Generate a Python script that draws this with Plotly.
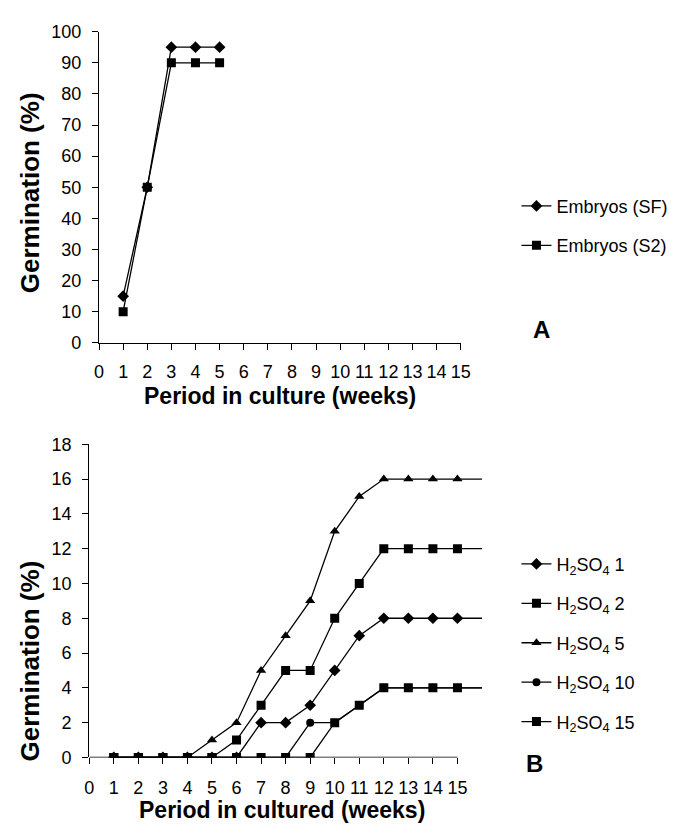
import plotly.graph_objects as go

# ---------------- data ----------------
weeks_a = [1, 2, 3, 4, 5]
embryos_sf = [15, 50, 95, 95, 95]
embryos_s2 = [10, 50, 90, 90, 90]

weeks_b = list(range(1, 16))
h2so4_1 = [0, 0, 0, 0, 0, 0, 2, 2, 3, 5, 7, 8, 8, 8, 8]
h2so4_2 = [0, 0, 0, 0, 0, 1, 3, 5, 5, 8, 10, 12, 12, 12, 12]
h2so4_5 = [0, 0, 0, 0, 1, 2, 5, 7, 9, 13, 15, 16, 16, 16, 16]
h2so4_10 = [0, 0, 0, 0, 0, 0, 0, 0, 2, 2, 3, 4, 4, 4, 4]
h2so4_15 = [0, 0, 0, 0, 0, 0, 0, 0, 0, 2, 3, 4, 4, 4, 4]

x_ticks = list(range(0, 16))
names_a = ["Embryos (SF)", "Embryos (S2)"]
names_b = ["H<sub>2</sub>SO<sub>4</sub> 1", "H<sub>2</sub>SO<sub>4</sub> 2",
           "H<sub>2</sub>SO<sub>4</sub> 5", "H<sub>2</sub>SO<sub>4</sub> 10",
           "H<sub>2</sub>SO<sub>4</sub> 15"]

# page has an 8px body margin: size figure so the page is exactly 685x833
OFF = 8
W, H = 685 - 2 * OFF, 833 - 2 * OFF
FONT = "Liberation Sans, Arial, sans-serif"

fig = go.Figure()

def px_x(p):
    return (p - OFF) / W

def px_y(p):
    return 1 - (p - OFF) / H

# ---- Chart A ----
for name, vals, sym, size in [(names_a[0], embryos_sf, "diamond", 9),
                              (names_a[1], embryos_s2, "square", 9)]:
    fig.add_trace(go.Scatter(
        x=weeks_a, y=vals, name=name, mode="lines+markers",
        line=dict(color="black", width=1.3),
        marker=dict(symbol=sym, size=size, color="black"),
        xaxis="x", yaxis="y", legend="legend", legendgroup=name,
    ))

# ---- Chart B ----
series_b = [h2so4_1, h2so4_2, h2so4_5, h2so4_10, h2so4_15]
symbols_b = [("diamond", 9), ("square", 9), ("triangle-up", 9), ("circle", 8), ("square", 9)]
for name, vals, (sym, size) in zip(names_b, series_b, symbols_b):
    # line continuation to the right of the last category
    fig.add_trace(go.Scatter(
        x=[weeks_b[-1], weeks_b[-1] + 1], y=[vals[-1], vals[-1]],
        mode="lines", line=dict(color="black", width=1.3),
        xaxis="x2", yaxis="y2", showlegend=False, hoverinfo="skip",
    ))
for name, vals, (sym, size) in zip(names_b, series_b, symbols_b):
    fig.add_trace(go.Scatter(
        x=weeks_b, y=vals, name=name, mode="lines+markers",
        line=dict(color="black", width=1.3),
        marker=dict(symbol=sym, size=size, color="black"),
        xaxis="x2", yaxis="y2", legend="legend2", legendgroup=name,
    ))

tickfont = dict(family=FONT, size=18, color="black")
axis_common = dict(showgrid=False, zeroline=False, ticks="outside", ticklen=6,
                   tickcolor="black", tickwidth=1, tickfont=tickfont,
                   linecolor="black", linewidth=1.2, fixedrange=True)

fig.update_layout(
    width=W, height=H, margin=dict(l=0, r=0, t=0, b=0),
    paper_bgcolor="white", plot_bgcolor="white",
    font=dict(family=FONT, color="black"),
    xaxis=dict(domain=[px_x(96), px_x(466)], range=[0, 15], anchor="y",
               tickvals=x_ticks, showline=True, ticklabelstandoff=6, **axis_common),
    yaxis=dict(domain=[px_y(341), px_y(22)], range=[0, 100], anchor="x",
               dtick=10, showline=True, ticklabelstandoff=7, **axis_common),
    xaxis2=dict(domain=[px_x(86), px_x(489)], range=[0, 16.05], anchor="y2",
                tickvals=x_ticks, showline=False, ticklabelstandoff=8, **axis_common),
    yaxis2=dict(domain=[px_y(766), px_y(445)], range=[0, 18], anchor="x2",
                dtick=2, showline=True, ticklabelstandoff=7, **axis_common),
    legend=dict(x=px_x(523), y=px_y(182), xanchor="left", yanchor="top",
                font=dict(family=FONT, size=18, color="black"),
                tracegroupgap=13, bgcolor="rgba(0,0,0,0)"),
    legend2=dict(x=px_x(523), y=px_y(549), xanchor="left", yanchor="top",
                 font=dict(family=FONT, size=18, color="black"),
                 tracegroupgap=13, bgcolor="rgba(0,0,0,0)"),
    showlegend=True,
)

# x-axis line of chart B drawn only over the labelled categories
fig.add_shape(type="line", xref="x2", yref="y2", x0=x_ticks[0], x1=x_ticks[-1],
              y0=0, y1=0, line=dict(color="black", width=1.2), layer="below")

title_font = dict(family=FONT, size=23, color="black")
ytitle_font = dict(family=FONT, size=26, color="black")
ann = dict(xref="paper", yref="paper", showarrow=False, xanchor="center", yanchor="middle")
fig.add_annotation(text="<b>Period in culture (weeks)</b>", x=px_x(281), y=px_y(395),
                   font=title_font, **ann)
fig.add_annotation(text="<b>Period in cultured (weeks)</b>", x=px_x(283), y=px_y(820),
                   font=title_font, **ann)
fig.add_annotation(text="<b>Germination (%)</b>", x=px_x(25), y=px_y(187), textangle=-90,
                   font=ytitle_font, **ann)
fig.add_annotation(text="<b>Germination (%)</b>", x=px_x(25), y=px_y(667), textangle=-90,
                   font=ytitle_font, **ann)
fig.add_annotation(text="<b>A</b>", x=px_x(549), y=px_y(327),
                   font=dict(family=FONT, size=24, color="black"), **ann)
fig.add_annotation(text="<b>B</b>", x=px_x(541), y=px_y(772),
                   font=dict(family=FONT, size=24, color="black"), **ann)

fig.write_html("out.html")
